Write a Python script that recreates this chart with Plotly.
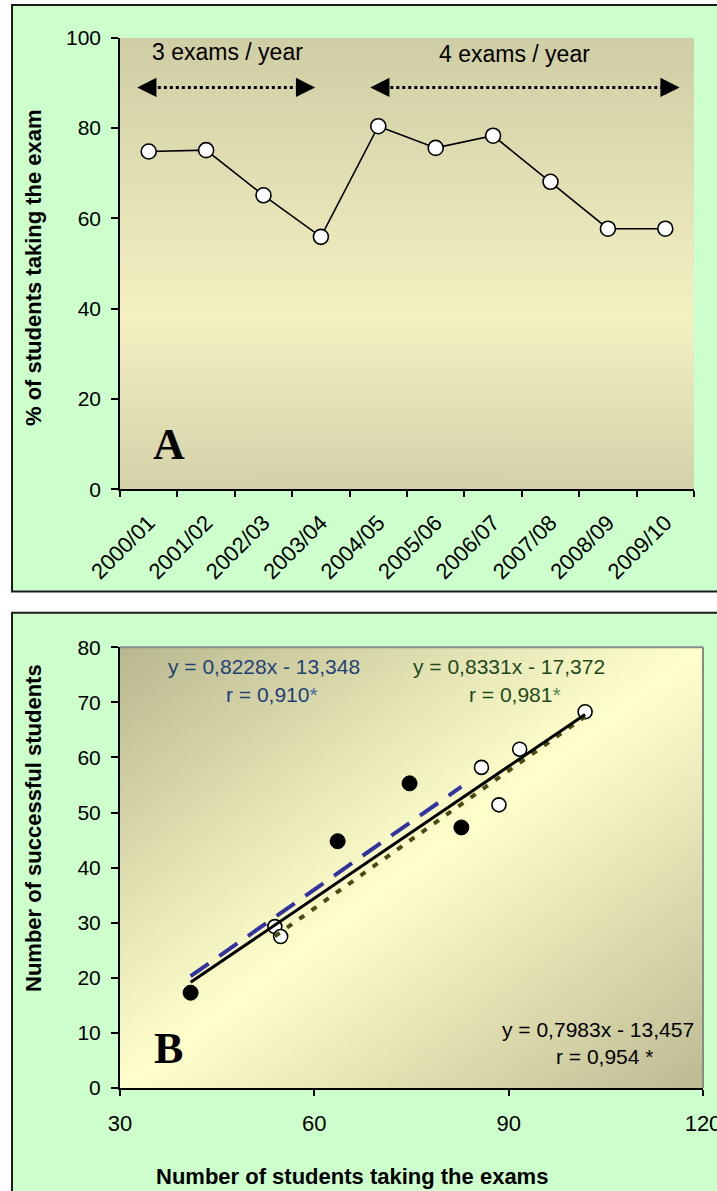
import base64
import plotly.graph_objects as go

# ---------------- data ----------------
years = ["2000/01", "2001/02", "2002/03", "2003/04", "2004/05",
         "2005/06", "2006/07", "2007/08", "2008/09", "2009/10"]
pct_taking = [74.8, 75.1, 65.1, 55.9, 80.4, 75.6, 78.3, 68.1, 57.7, 57.7]

# panel B: 3 exams / year (filled) and 4 exams / year (open)
taking_3 = [40.9, 63.6, 74.7, 82.7]
success_3 = [17.3, 44.8, 55.3, 47.3]
taking_4 = [53.9, 54.8, 85.8, 88.5, 91.7, 101.8]
success_4 = [29.3, 27.5, 58.2, 51.4, 61.5, 68.3]

fit_3 = [0.8228, -13.348]
fit_4 = [0.8331, -17.372]
fit_all = [0.7983, -13.457]

x_ticks_b = [30, 60, 90, 120]
y_ticks_b = [0, 10, 20, 30, 40, 50, 60, 70, 80]
y_ticks_a = [0, 20, 40, 60, 80, 100]

W, H = 717, 1191
FONT = "Liberation Sans, Arial, sans-serif"
SERIF = "Liberation Serif, Times New Roman, serif"


def py(p):
    return 1 - p / H


def px(p):
    return p / W


def grad_svg(x2, y2, stops):
    s = "".join(f'<stop offset="{o}" stop-color="{c}"/>' for o, c in stops)
    svg = ('<svg xmlns="http://www.w3.org/2000/svg" width="100" height="100" '
           'viewBox="0 0 100 100" preserveAspectRatio="none"><defs>'
           f'<linearGradient id="g" x1="0" y1="0" x2="{x2}" y2="{y2}">{s}</linearGradient>'
           '</defs><rect x="0" y="0" width="100" height="100" fill="url(#g)"/></svg>')
    return "data:image/svg+xml;base64," + base64.b64encode(svg.encode()).decode()


def fit_line(coef, xs):
    x0, x1 = min(xs), max(xs)
    return [x0, x1], [coef[0] * x0 + coef[1], coef[0] * x1 + coef[1]]


fig = go.Figure()

# ---------------- panel A ----------------
fig.add_trace(go.Scatter(
    x=years, y=pct_taking, mode="lines+markers", xaxis="x", yaxis="y",
    line=dict(color="black", width=1.6),
    marker=dict(symbol="circle", size=15, color="white",
                line=dict(color="black", width=1.6)),
    showlegend=False, hoverinfo="skip"))

# ---------------- panel B ----------------
fig.add_trace(go.Scatter(
    x=taking_4, y=success_4, mode="markers", xaxis="x2", yaxis="y2",
    marker=dict(symbol="circle", size=14, color="white",
                line=dict(color="black", width=1.6)),
    showlegend=False, hoverinfo="skip"))
fig.add_trace(go.Scatter(
    x=taking_3, y=success_3, mode="markers", xaxis="x2", yaxis="y2",
    marker=dict(symbol="circle", size=15, color="black",
                line=dict(color="black", width=1)),
    showlegend=False, hoverinfo="skip"))

lx, ly = fit_line(fit_4, taking_4)
fig.add_trace(go.Scatter(x=lx, y=ly, mode="lines", xaxis="x2", yaxis="y2",
                         line=dict(color="#4a4a12", width=4, dash="6px,9px"),
                         showlegend=False, hoverinfo="skip"))
lx, ly = fit_line(fit_3, taking_3)
fig.add_trace(go.Scatter(x=lx, y=ly, mode="lines", xaxis="x2", yaxis="y2",
                         line=dict(color="#33339f", width=4, dash="22px,13px"),
                         showlegend=False, hoverinfo="skip"))
lx, ly = fit_line(fit_all, taking_3 + taking_4)
fig.add_trace(go.Scatter(x=lx, y=ly, mode="lines", xaxis="x2", yaxis="y2",
                         line=dict(color="black", width=3),
                         showlegend=False, hoverinfo="skip"))

axis_common = dict(showgrid=False, zeroline=False, showline=True,
                   linecolor="black", ticks="outside", tickcolor="black",
                   fixedrange=True, automargin=False)

shapes = [
    # panel frames
    dict(type="rect", xref="paper", yref="paper", x0=px(12), x1=1.05,
         y0=py(591.5), y1=py(5), fillcolor="#ccffcc",
         line=dict(color="#1a1a1a", width=2), layer="below"),
    dict(type="rect", xref="paper", yref="paper", x0=px(12), x1=1.05,
         y0=-0.05, y1=py(612.7), fillcolor="#ccffcc",
         line=dict(color="#1a1a1a", width=2), layer="below"),
    # gray plot-area border of panel B (top & right)
    dict(type="line", xref="x2 domain", yref="y2 domain", x0=0, x1=1, y0=1, y1=1,
         line=dict(color="#8a8a8a", width=2)),
    dict(type="line", xref="x2 domain", yref="y2 domain", x0=1, x1=1, y0=0, y1=1,
         line=dict(color="#8a8a8a", width=2)),
    # dotted period arrows (panel A)
    dict(type="line", xref="x", yref="y", x0=-0.05, x1=2.75, y0=89, y1=89,
         line=dict(color="black", width=3, dash="dot")),
    dict(type="line", xref="x", yref="y", x0=4.0, x1=9.1, y0=89, y1=89,
         line=dict(color="black", width=3, dash="dot")),
]

annotations = []
# arrow heads
for xtip, off in [(-0.2, 14), (2.9, -14), (3.86, 14), (9.25, -14)]:
    annotations.append(dict(x=xtip, y=89, xref="x", yref="y", text="",
                            showarrow=True, ax=off, ay=0, arrowhead=2,
                            arrowsize=1.6, arrowwidth=2.4, arrowcolor="black",
                            standoff=0))
annotations += [
    dict(x=1.38, y=96.8, xref="x", yref="y", text="3 exams / year",
         showarrow=False, font=dict(family=FONT, size=23, color="black")),
    dict(x=6.37, y=96.4, xref="x", yref="y", text="4 exams / year",
         showarrow=False, font=dict(family=FONT, size=23, color="black")),
    dict(x=0.35, y=10.0, xref="x", yref="y", text="<b>A</b>",
         showarrow=False, font=dict(family=SERIF, size=44, color="black")),
    dict(x=px(33), y=py(268), xref="paper", yref="paper",
         xanchor="center", yanchor="middle",
         text="<b>% of students taking the exam</b>", textangle=-90,
         showarrow=False, font=dict(family=FONT, size=22, color="black")),
    # panel B texts
    dict(x=52.3, y=76.6, xref="x2", yref="y2", text="y = 0,8228x - 13,348",
         showarrow=False, font=dict(family=FONT, size=21, color="#1f3f78")),
    dict(x=53.4, y=71.5, xref="x2", yref="y2",
         text="r = 0,910<span style='color:#4a68a8'>*</span>",
         showarrow=False, font=dict(family=FONT, size=21, color="#1f3f78")),
    dict(x=90.0, y=76.6, xref="x2", yref="y2", text="y = 0,8331x - 17,372",
         showarrow=False, font=dict(family=FONT, size=21, color="#1d4a1d")),
    dict(x=90.9, y=71.5, xref="x2", yref="y2",
         text="r = 0,981<span style='color:#5a865a'>*</span>",
         showarrow=False, font=dict(family=FONT, size=21, color="#1d4a1d")),
    dict(x=118.9, y=10.65, xref="x2", yref="y2", text="y = 0,7983x - 13,457",
         xanchor="right", showarrow=False,
         font=dict(family=FONT, size=21, color="black")),
    dict(x=112.6, y=5.7, xref="x2", yref="y2", text="r = 0,954 *",
         xanchor="right", showarrow=False,
         font=dict(family=FONT, size=21, color="black")),
    dict(x=37.5, y=7.2, xref="x2", yref="y2", text="<b>B</b>",
         showarrow=False, font=dict(family=SERIF, size=44, color="black")),
    dict(x=px(33), y=py(828), xref="paper", yref="paper",
         xanchor="center", yanchor="middle",
         text="<b>Number of successful students</b>", textangle=-90,
         showarrow=False, font=dict(family=FONT, size=22, color="black")),
    dict(x=px(352), y=py(1176), xref="paper", yref="paper",
         xanchor="center", yanchor="middle",
         text="<b>Number of students taking the exams</b>",
         showarrow=False, font=dict(family=FONT, size=22, color="black")),
]

images = [
    dict(source=grad_svg(0, 1, [(0, "#cfcda4"), (0.62, "#f4f0c2"), (1, "#d4d1a9")]),
         xref="x domain", yref="y domain", x=0, y=1, sizex=1, sizey=1,
         sizing="stretch", xanchor="left", yanchor="top", layer="below"),
    dict(source=grad_svg(1, 1, [(0, "#b9b78e"), (0.5, "#ffffcc"), (1, "#bdba92")]),
         xref="x2 domain", yref="y2 domain", x=0, y=1, sizex=1, sizey=1,
         sizing="stretch", xanchor="left", yanchor="top", layer="below"),
]

fig.update_layout(
    template="none",
    width=W, height=H,
    margin=dict(l=0, r=0, t=0, b=0, pad=0, autoexpand=False),
    paper_bgcolor="white", plot_bgcolor="rgba(0,0,0,0)",
    showlegend=False,
    xaxis=dict(axis_common, domain=[px(120), px(694)], anchor="y",
               type="category", range=[-0.5, 9.5], tickson="boundaries",
               ticklen=6, tickwidth=1.5, linewidth=1.5, tickangle=-45,
               ticklabelstandoff=10,
               tickfont=dict(family=FONT, size=22, color="black")),
    yaxis=dict(axis_common, domain=[py(489.3), py(37.7)], anchor="x",
               range=[0, 100], tickvals=y_ticks_a, ticklen=7, tickwidth=1.5,
               linewidth=1.5, ticklabelstandoff=6,
               tickfont=dict(family=FONT, size=21, color="black")),
    xaxis2=dict(axis_common, domain=[px(120), px(703)], anchor="y2",
                range=[30, 120], tickvals=x_ticks_b, ticklen=6, tickwidth=2,
                linewidth=2, ticklabelstandoff=9, ticklabeloverflow="allow",
                tickfont=dict(family=FONT, size=22, color="black")),
    yaxis2=dict(axis_common, domain=[py(1088), py(647.3)], anchor="x2",
                range=[0, 80], tickvals=y_ticks_b, ticklen=7, tickwidth=2,
                linewidth=2, ticklabelstandoff=6,
                tickfont=dict(family=FONT, size=21, color="black")),
    shapes=shapes, annotations=annotations, images=images,
)

fig.write_html(
    "out.html",
    config={"displayModeBar": False, "staticPlot": False},
    post_script="document.body.style.margin='0';"
                "document.documentElement.style.overflow='hidden';",
)
